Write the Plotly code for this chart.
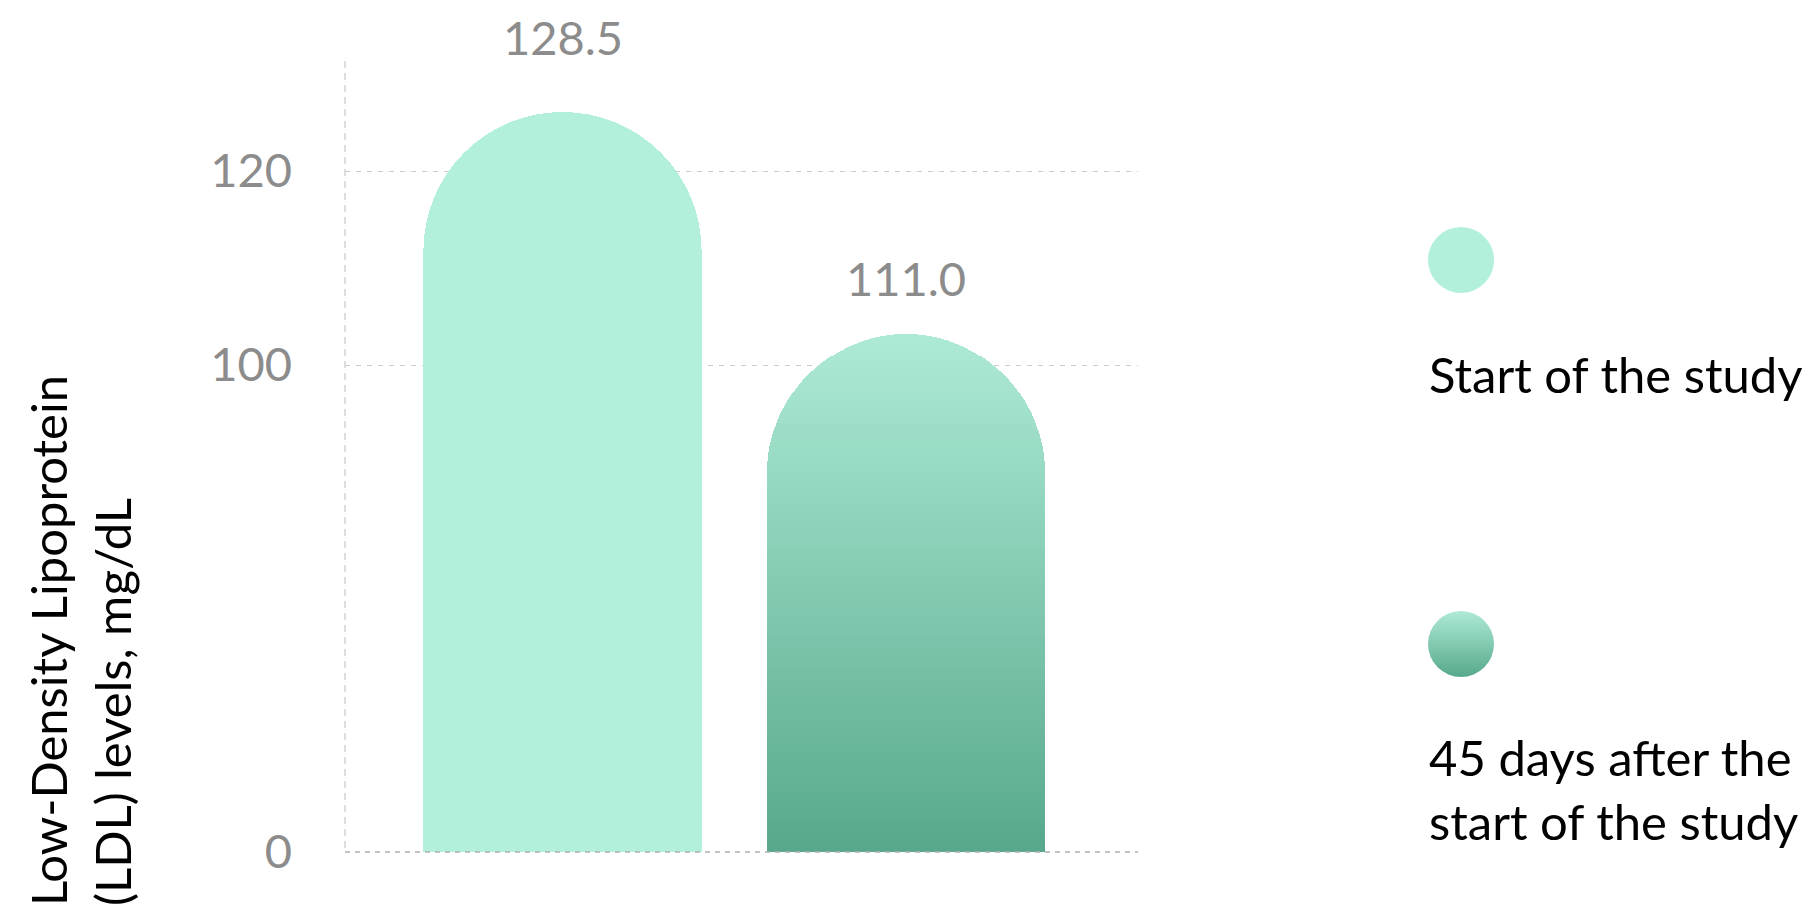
import plotly.graph_objects as go

# ---------------- data ----------------
categories = ["Start of the study", "45 days after the start of the study"]
ldl_values = [128.5, 111.0]
value_labels = ["128.5", "111.0"]
tick_values = [0, 100, 120]
tick_labels = ["0", "100", "120"]
legend_labels = ["Start of the study", "45 days after the<br>start of the study"]
y_title = "Low-Density Lipoprotein<br>(LDL) levels, mg/dL"

# ---------------- layout geometry (screen pixels) ----------------
W, H = 1810, 908
PAGE_OFF = 8          # default body margin of the html page
L, R, T, B = 345, 1810, 58, 852
PLOT_RIGHT = 1138


def px_x(p):
    return (p - L) / (R - L)


def px_y(p):
    return (B - p) / (B - T)


FONT = "Lato"
GRAY = "#8c8c8c"
BAR1 = "#b2f0db"
GRAD_TOP = (174, 234, 214)
GRAD_BOT = (87, 169, 139)

# gridline axis (ticks 100 / 120, broken at the bottom where "0" sits)
s1 = (365 - 171) / (tick_values[2] - tick_values[1])
y_lo = tick_values[1] - (B - 365) / s1
y_hi = y_lo + (B - T) / s1
tickvals = [y_lo, tick_values[1], tick_values[2]]

# bar axis (truncated value axis for the pill-shaped bars)
s2 = (334 - 112) / (ldl_values[0] - ldl_values[1])
y2_lo = ldl_values[0] - (B - 112) / s2
y2_hi = y2_lo + (B - T) / s2

# x axis for the bars
centre_gap = 906 - 562.5
x_lo = 0 - (562.5 - L) / centre_gap
x_hi = 1 + (PLOT_RIGHT - 906) / centre_gap
x_dom = px_x(PLOT_RIGHT)

fig = go.Figure()

# invisible anchor trace so the gridline axis is drawn
fig.add_trace(go.Scatter(
    x=[categories[0]], y=[tick_values[1]], mode="markers",
    marker=dict(opacity=0, size=1), hoverinfo="skip", showlegend=False,
))

# bar 1 : flat colour
fig.add_trace(go.Bar(
    x=[categories[0]], y=[ldl_values[0]], yaxis="y2",
    marker=dict(color=BAR1, line=dict(width=0), cornerradius="50%"),
    hoverinfo="skip", showlegend=False,
))

# bar 2 : vertical gradient rendered as stacked slices of the same value
n = 70
below = y2_lo
step = (ldl_values[1] - below) / n


def mix(f):
    c = [round(GRAD_BOT[k] + (GRAD_TOP[k] - GRAD_BOT[k]) * f) for k in range(3)]
    return "rgb(%d,%d,%d)" % tuple(c)


fig.add_trace(go.Bar(
    x=[categories[1]], y=[below], yaxis="y2",
    marker=dict(color=mix(0), line=dict(width=0), cornerradius="50%"),
    hoverinfo="skip", showlegend=False,
))
for i in range(n):
    fig.add_trace(go.Bar(
        x=[categories[1]], y=[step], yaxis="y2",
        marker=dict(color=mix((i + 0.5) / n), line=dict(width=0), cornerradius="50%"),
        hoverinfo="skip", showlegend=False,
    ))

# value labels
label_shift = [75, 56]
for cat, v, txt, sh in zip(categories, ldl_values, value_labels, label_shift):
    fig.add_annotation(x=cat, y=v, xref="x", yref="y2", text=txt, showarrow=False,
                       yanchor="middle", yshift=sh,
                       font=dict(family=FONT, size=47, color=GRAY))

# legend swatches
fig.add_trace(go.Scatter(
    x=[1461], y=[260], xaxis="x3", yaxis="y3", mode="markers",
    marker=dict(size=66, color=BAR1, line=dict(width=0)),
    hoverinfo="skip", showlegend=False, cliponaxis=False,
))
fig.add_trace(go.Scatter(
    x=[1461], y=[644], xaxis="x3", yaxis="y3", mode="markers",
    marker=dict(size=66, color="rgb(%d,%d,%d)" % GRAD_TOP, line=dict(width=0),
                gradient=dict(type="vertical", color="rgb(%d,%d,%d)" % GRAD_BOT)),
    hoverinfo="skip", showlegend=False, cliponaxis=False,
))

fig.add_annotation(x=px_x(1427), y=px_y(374), xref="paper", yref="paper",
                   text=legend_labels[0], showarrow=False, xanchor="left", yanchor="middle",
                   align="left", font=dict(family=FONT, size=49, color="#000000"))
fig.add_annotation(x=px_x(1427), y=px_y(789), xref="paper", yref="paper",
                   text=legend_labels[1], showarrow=False, xanchor="left", yanchor="middle",
                   align="left", font=dict(family=FONT, size=49, color="#000000"))

# y title
fig.add_annotation(x=px_x(80), y=px_y(641), xref="paper", yref="paper",
                   text=y_title, showarrow=False, textangle=-90, align="left",
                   xanchor="center", yanchor="middle",
                   font=dict(family=FONT, size=49, color="#000000"))

# axis frame lines
fig.add_shape(type="line", xref="paper", yref="paper", x0=0, x1=x_dom, y0=0, y1=0,
              line=dict(color="#b0b0b0", width=1.5, dash="5px,5px"), layer="above")
fig.add_shape(type="line", xref="paper", yref="paper", x0=0, x1=0, y0=px_y(848), y1=1,
              line=dict(color="#dedede", width=2, dash="7px,5px"), layer="below")

fig.update_layout(
    width=W - PAGE_OFF, height=H - PAGE_OFF, autosize=False,
    margin=dict(l=L - PAGE_OFF, r=W - R, t=T - PAGE_OFF, b=H - B, pad=0),
    paper_bgcolor="white", plot_bgcolor="rgba(0,0,0,0)",
    barmode="stack", bargap=0.19,
    font=dict(family=FONT),
    xaxis=dict(domain=[0, x_dom], range=[x_lo, x_hi], showticklabels=False,
               showgrid=False, zeroline=False, showline=False, ticks="",
               categoryorder="array", categoryarray=categories),
    yaxis=dict(range=[y_lo, y_hi], tickvals=tickvals, ticktext=tick_labels,
               showgrid=True, gridcolor="#cccccc", gridwidth=1, griddash="5px,6px",
               zeroline=False, showline=False, ticks="", ticklabelstandoff=52,
               tickfont=dict(family=FONT, size=47, color=GRAY)),
    yaxis2=dict(range=[y2_lo, y2_hi], overlaying="y", showgrid=False,
                zeroline=False, showticklabels=False, showline=False),
    xaxis3=dict(domain=[px_x(1380), 1], range=[1380, R], visible=False, anchor="y3"),
    yaxis3=dict(domain=[0, 1], range=[B, T], visible=False, anchor="x3"),
    showlegend=False,
)

fig.write_html("out.html", config={"displayModeBar": False})
